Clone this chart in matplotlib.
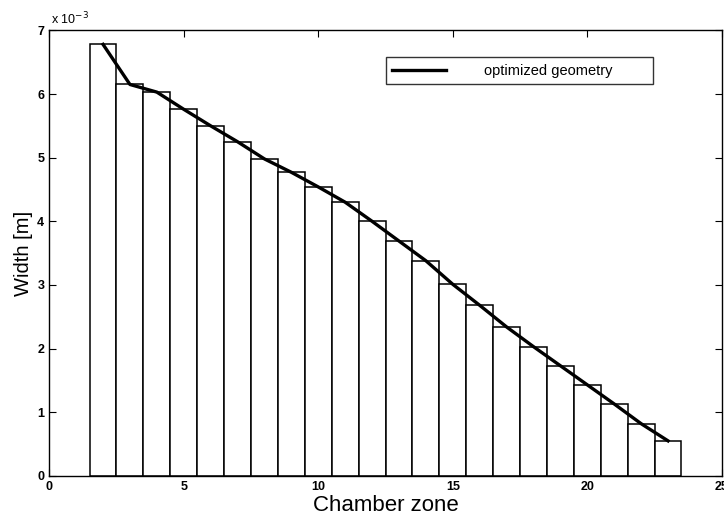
import matplotlib
matplotlib.use("Agg")
import matplotlib.pyplot as plt

zones = list(range(2, 24))
widths_e3 = [6.78, 6.15, 6.03, 5.76, 5.50, 5.25, 4.98, 4.77, 4.54, 4.30, 4.00,
             3.69, 3.38, 3.01, 2.68, 2.34, 2.03, 1.73, 1.43, 1.13, 0.82, 0.55]
widths = [w * 1e-3 for w in widths_e3]
xticks = [0, 5, 10, 15, 20, 25]
yticks = [0, 1e-3, 2e-3, 3e-3, 4e-3, 5e-3, 6e-3, 7e-3]

plt.rcParams['font.family'] = ['Liberation Sans', 'DejaVu Sans']

fig = plt.figure(figsize=(7.24, 5.15), dpi=100)
ax = fig.add_axes([0.068, 0.076, 0.929, 0.865])

ax.bar(zones, widths, width=1.0, facecolor='white', edgecolor='black', linewidth=1.1, zorder=2)
ax.plot(zones, widths, color='black', linewidth=2.4, label='optimized geometry', zorder=3)

ax.set_xlim(0, 25)
ax.set_ylim(0, 7e-3)
ax.set_xticks(xticks)
ax.set_yticks(yticks)
ax.set_xticklabels([str(t) for t in xticks], fontweight='bold')
ax.set_yticklabels(['0', '1', '2', '3', '4', '5', '6', '7'], fontweight='bold')
ax.tick_params(direction='in', top=True, right=True, length=5, labelsize=9)
for s in ax.spines.values():
    s.set_linewidth(1.0)

ax.text(0.003, 1.008, r'x 10$^{-3}$', transform=ax.transAxes, fontsize=9, ha='left', va='bottom')
ax.set_xlabel('Chamber zone', fontsize=16, labelpad=2)
ax.set_ylabel('Width [m]', fontsize=14.5, labelpad=3)

leg = ax.legend(loc='upper left', bbox_to_anchor=(0.5, 0.94, 0.397, 0.0), mode='expand',
                fontsize=10.5, frameon=True,
                fancybox=False, edgecolor='black', handlelength=3.7, handletextpad=2.6,
                borderpad=0.45, borderaxespad=0)
leg.get_frame().set_linewidth(1.0)

fig.savefig('out.png', dpi=100)
